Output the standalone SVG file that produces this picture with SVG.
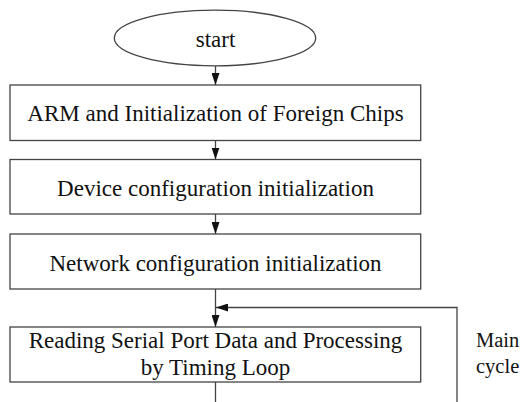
<svg xmlns="http://www.w3.org/2000/svg" width="521" height="402" viewBox="0 0 521 402">
<style>
.box{fill:#fff;stroke:#444;stroke-width:1.3}
.lbl{font-family:"Liberation Serif","Times New Roman",serif;font-size:23px;fill:#111;text-anchor:middle}
.side{font-family:"Liberation Serif","Times New Roman",serif;font-size:20.5px;fill:#111}
.con{fill:none;stroke:#444;stroke-width:1.3}
</style>
<defs>
<marker id="ah" markerUnits="userSpaceOnUse" markerWidth="12" markerHeight="8" refX="12" refY="4" orient="auto">
<path d="M0,0 L12,4 L0,8 z" fill="#111"/>
</marker>
</defs>
<rect width="521" height="402" fill="#fff"/>
<g id="connectors">
<line class="con" x1="215.5" y1="66" x2="215.5" y2="85" marker-end="url(#ah)"/>
<line class="con" x1="215.5" y1="140.5" x2="215.5" y2="159.5" marker-end="url(#ah)"/>
<line class="con" x1="215.5" y1="214" x2="215.5" y2="234" marker-end="url(#ah)"/>
<line class="con" x1="215.5" y1="289" x2="215.5" y2="327" marker-end="url(#ah)"/>
<line class="con" x1="215.5" y1="382" x2="215.5" y2="402"/>
<polyline class="con" points="457,402 457,307.5 216,307.5" marker-end="url(#ah)"/>
</g>
<g id="start">
<ellipse class="box" cx="215" cy="38" rx="100.7" ry="27.8"/>
<text class="lbl" x="215.5" y="46.5">start</text>
</g>
<g id="arm-init">
<rect class="box" x="10" y="85" width="410.7" height="55.5"/>
<text class="lbl" x="215.5" y="121">ARM and Initialization of Foreign Chips</text>
</g>
<g id="device-init">
<rect class="box" x="10" y="159.5" width="410.7" height="54.5"/>
<text class="lbl" x="215.5" y="195.7">Device configuration initialization</text>
</g>
<g id="network-init">
<rect class="box" x="10" y="234" width="410.7" height="55"/>
<text class="lbl" x="215.5" y="270.7">Network configuration initialization</text>
</g>
<g id="serial-loop">
<rect class="box" x="10" y="327" width="410.7" height="55"/>
<text class="lbl" x="215.5" y="348.3">Reading Serial Port Data and Processing</text>
<text class="lbl" x="215.5" y="375">by Timing Loop</text>
</g>
<g id="main-cycle-label">
<text class="side" x="476" y="347">Main</text>
<text class="side" x="476" y="373">cycle</text>
</g>
</svg>
